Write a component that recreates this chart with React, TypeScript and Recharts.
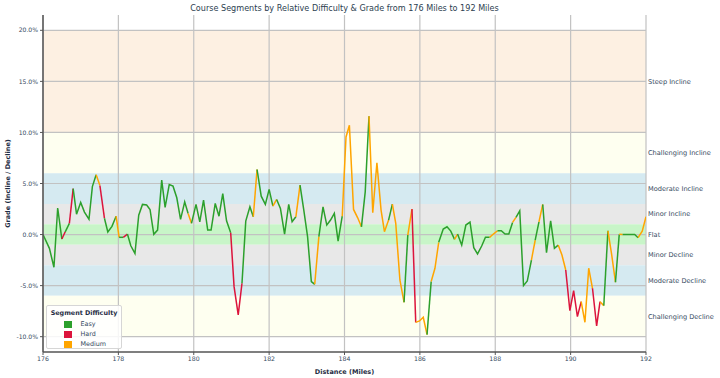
import React from 'react';
import {
  ComposedChart, Line, XAxis, YAxis, ReferenceArea, ReferenceLine, Legend,
} from 'recharts';

const miles = [
  176.00, 176.17, 176.29, 176.39, 176.50, 176.59, 176.70, 176.80, 176.89, 177.00,
  177.10, 177.22, 177.31, 177.41, 177.51, 177.63, 177.72, 177.83, 177.94, 178.02,
  178.13, 178.24, 178.33, 178.44, 178.54, 178.64, 178.75, 178.84, 178.94, 179.04,
  179.15, 179.24, 179.35, 179.45, 179.55, 179.65, 179.76, 179.85, 179.94, 180.06,
  180.16, 180.26, 180.37, 180.46, 180.57, 180.67, 180.77, 180.87, 180.98, 181.07,
  181.18, 181.28, 181.38, 181.49, 181.58, 181.68, 181.79, 181.90, 182.00, 182.10,
  182.20, 182.30, 182.41, 182.52, 182.61, 182.71, 182.82, 182.92, 183.02, 183.12,
  183.21, 183.32, 183.43, 183.53, 183.63, 183.73, 183.83, 183.94, 184.04, 184.13,
  184.24, 184.35, 184.45, 184.55, 184.65, 184.75, 184.86, 184.97, 185.06, 185.17,
  185.27, 185.36, 185.47, 185.58, 185.68, 185.79, 185.89, 185.99, 186.09, 186.19,
  186.30, 186.40, 186.50, 186.62, 186.72, 186.82, 186.92, 187.00, 187.11, 187.22,
  187.33, 187.43, 187.53, 187.64, 187.74, 187.85, 187.95, 188.06, 188.16, 188.26,
  188.36, 188.46, 188.55, 188.65, 188.75, 188.85, 188.96, 189.06, 189.16, 189.26,
  189.36, 189.47, 189.57, 189.67, 189.77, 189.87, 189.98, 190.08, 190.18, 190.28,
  190.38, 190.48, 190.58, 190.69, 190.78, 190.88, 190.99, 191.09, 191.19, 191.29,
  191.38, 191.48, 191.58, 191.70, 191.79, 191.90, 192.00,
];

const grades = [
  0.0, -1.35, -3.2, 2.6, -0.44, 0.27, 1.1, 4.5, 2.0, 3.15,
  2.2, 1.5, 4.7, 5.85, 4.8, 1.6, 0.25, 0.8, 1.8, -0.27,
  -0.27, 0.05, -1.1, -1.85, 1.9, 2.95, 2.9, 2.46, 0.02, 0.44,
  5.33, 2.66, 4.9, 4.74, 3.6, 1.48, 3.2, 2.07, 1.1, 2.95,
  1.25, 3.37, 0.44, 0.44, 3.05, 1.8, 4.0, 1.35, 0.18, -5.1,
  -7.87, -4.77, 1.32, 2.72, 1.74, 6.37, 3.76, 2.95, 4.42, 2.79,
  3.44, 2.56, 0.05, 2.95, 1.25, 1.74, 4.84, 2.4, -0.2, -4.6,
  -4.87, -0.2, 2.72, 0.93, 1.42, 2.07, -0.64, 1.8, 9.56, 10.7,
  2.46, 1.64, 0.76, 4.18, 11.58, 2.13, 7.02, 2.4, 0.28, 1.42,
  2.98, 1.1, -4.45, -6.63, -0.05, 2.49, -8.6, -8.46, -8.1, -9.8,
  -4.6, -3.3, -0.76, 0.54, 0.76, 0.34, -0.47, 0.05, -1.03, 0.93,
  1.22, -1.29, -1.9, -1.12, -0.27, -0.27, 0.05, 0.37, 0.37, 0.05,
  0.05, 1.19, 1.68, 2.33, -5.0, -4.55, -2.5, -0.54, 1.25, 2.95,
  -1.78, 1.35, -1.35, -1.03, -2.0, -3.47, -7.45, -5.49, -8.03, -6.57,
  -8.59, -3.3, -5.26, -8.94, -6.57, -6.96, 0.37, -2.0, -4.67, 0.02,
  0.0, 0.0, 0.0, 0.0, -0.31, 0.34, 1.74,
];

// difficulty of each segment (from point i to point i+1): E = Easy, H = Hard, M = Medium
const segmentDifficulty = [
  'E', 'E', 'E', 'E', 'H', 'E', 'H', 'E', 'E', 'E',
  'E', 'E', 'E', 'M', 'H', 'E', 'E', 'E', 'M', 'E',
  'H', 'E', 'E', 'E', 'E', 'E', 'E', 'E', 'E', 'E',
  'E', 'E', 'E', 'E', 'E', 'E', 'E', 'M', 'E', 'E',
  'E', 'E', 'E', 'E', 'E', 'E', 'E', 'E', 'H', 'H',
  'H', 'E', 'E', 'E', 'M', 'E', 'E', 'E', 'E', 'M',
  'E', 'E', 'E', 'E', 'E', 'M', 'E', 'E', 'E', 'E',
  'M', 'E', 'E', 'E', 'E', 'E', 'E', 'M', 'M', 'M',
  'M', 'M', 'E', 'E', 'M', 'M', 'M', 'M', 'M', 'E',
  'M', 'M', 'M', 'E', 'M', 'H', 'M', 'M', 'M', 'E',
  'M', 'M', 'E', 'E', 'E', 'E', 'M', 'E', 'E', 'E',
  'E', 'E', 'E', 'E', 'E', 'M', 'M', 'E', 'E', 'E',
  'E', 'M', 'E', 'E', 'E', 'E', 'M', 'E', 'M', 'E',
  'E', 'E', 'E', 'M', 'M', 'H', 'H', 'H', 'H', 'M',
  'M', 'M', 'H', 'H', 'M', 'E', 'M', 'M', 'E', 'M',
  'E', 'E', 'E', 'E', 'M', 'M',
];

const difficultyNames = { E: 'Easy', H: 'Hard', M: 'Medium' };
const difficultyColors = { E: '#2ca02c', H: '#dc143c', M: '#ffa500' };
const legendOrder = ['E', 'H', 'M'];

const bandNames = [
  'Steep Incline', 'Challenging Incline', 'Moderate Incline', 'Minor Incline',
  'Flat', 'Minor Decline', 'Moderate Decline', 'Challenging Decline',
];
const bandLows = [10, 6, 3, 1, -1, -3, -6, -10];
const bandHighs = [20, 10, 6, 3, 1, -1, -3, -6];
const bandColors = [
  '#fdf0e2', '#fefff0', '#d5eaf1', '#e8e8e8', '#c8f5c8', '#e8e8e8', '#d5eaf1', '#fefff0',
];

const xTicks = [176, 178, 180, 182, 184, 186, 188, 190, 192];
const yTicks = [-10, -5, 0, 5, 10, 15, 20];

const TEXT = '#34495e';
const DARK = '#1f2d44';

function buildRuns() {
  const runs = [];
  let start = 0;
  for (let i = 1; i <= segmentDifficulty.length; i++) {
    if (i === segmentDifficulty.length || segmentDifficulty[i] !== segmentDifficulty[start]) {
      const pts = [];
      for (let k = start; k <= i; k++) pts.push({ x: miles[k], g: grades[k] });
      runs.push({ d: segmentDifficulty[start], pts });
      start = i;
    }
  }
  return runs;
}

const runs = buildRuns();

const LegendBox = () => (
  <div
    style={{
      background: 'rgba(255,255,255,0.85)',
      border: '1px solid #d6d6d6',
      borderRadius: 2,
      width: 76,
      height: 44,
      boxSizing: 'border-box',
      padding: '3px 0 0 0',
      fontFamily: 'DejaVu Sans',
    }}
  >
    <div style={{ fontSize: 6.4, fontWeight: 'bold', color: DARK, textAlign: 'center', lineHeight: '8px', marginBottom: 2 }}>
      Segment Difficulty
    </div>
    {legendOrder.map((k) => (
      <div key={k} style={{ display: 'flex', alignItems: 'center', height: 10.2, paddingLeft: 17 }}>
        <span style={{ display: 'inline-block', width: 8, height: 7, background: difficultyColors[k] }} />
        <span style={{ fontSize: 6.4, color: TEXT, marginLeft: 8.5 }}>{difficultyNames[k]}</span>
      </div>
    ))}
  </div>
);

export default function App() {
  return (
    <div style={{ position: 'absolute', left: 0, top: 0, width: 720, height: 378, fontFamily: 'DejaVu Sans', background: '#fff' }}>
      <div
        style={{
          position: 'absolute', left: 43, width: 603, top: 3, textAlign: 'center',
          fontSize: 8.1, color: '#2c3e50', lineHeight: '11px', zIndex: 2,
        }}
      >
        Course Segments by Relative Difficulty &amp; Grade from 176 Miles to 192 Miles
      </div>
      <ComposedChart width={720} height={378} margin={{ top: 15, right: 74, bottom: 0, left: 0 }}>
        <XAxis
          dataKey="x"
          type="number"
          domain={[176, 192]}
          ticks={xTicks}
          allowDataOverflow
          height={26}
          tick={{ fontSize: 6.2, fill: TEXT }}
          tickSize={3}
          tickMargin={2}
          axisLine={{ stroke: '#555', strokeWidth: 1.5 }}
          tickLine={{ stroke: '#555' }}
          label={{
            value: 'Distance (Miles)', position: 'insideBottom', offset: 4,
            style: { fontSize: 6.5, fontWeight: 'bold', fill: DARK },
          }}
        />
        <YAxis
          type="number"
          domain={[-11.5, 21.5]}
          ticks={yTicks}
          allowDataOverflow
          width={43}
          tick={{ fontSize: 6.1, fill: TEXT }}
          tickSize={3}
          tickMargin={2}
          tickFormatter={(v) => `${Number(v).toFixed(1)}%`}
          axisLine={{ stroke: '#555', strokeWidth: 1.5 }}
          tickLine={{ stroke: '#555' }}
          label={{
            value: 'Grade (Incline / Decline)', angle: -90, position: 'insideLeft', offset: 8,
            style: { fontSize: 6.5, fontWeight: 'bold', fill: DARK, textAnchor: 'middle' },
          }}
        />
        {bandNames.map((name, i) => (
          <ReferenceArea
            key={name}
            y1={bandLows[i]}
            y2={bandHighs[i]}
            fill={bandColors[i]}
            fillOpacity={1}
            stroke="none"
            ifOverflow="visible"
            label={{ value: name, position: 'right', offset: 2, fill: TEXT, fontSize: 6.6 }}
          />
        ))}
        {xTicks.map((t) => (
          <ReferenceLine key={`vx${t}`} x={t} stroke="#c2c2c2" strokeWidth={1.2} />
        ))}
        {yTicks.map((t) => (
          <ReferenceLine key={`hy${t}`} y={t} stroke="#c2c2c2" strokeWidth={1.2} />
        ))}
        {runs.map((r, i) => (
          <Line
            key={`run${i}`}
            data={r.pts}
            dataKey="g"
            type="linear"
            stroke={difficultyColors[r.d]}
            strokeWidth={1.5}
            dot={false}
            activeDot={false}
            isAnimationActive={false}
            legendType="none"
          />
        ))}
        <Legend
          layout="vertical"
          align="center"
          verticalAlign="middle"
          content={() => <LegendBox />}
          wrapperStyle={{ left: 46, top: 305, width: 76, height: 44 }}
        />
      </ComposedChart>
    </div>
  );
}
